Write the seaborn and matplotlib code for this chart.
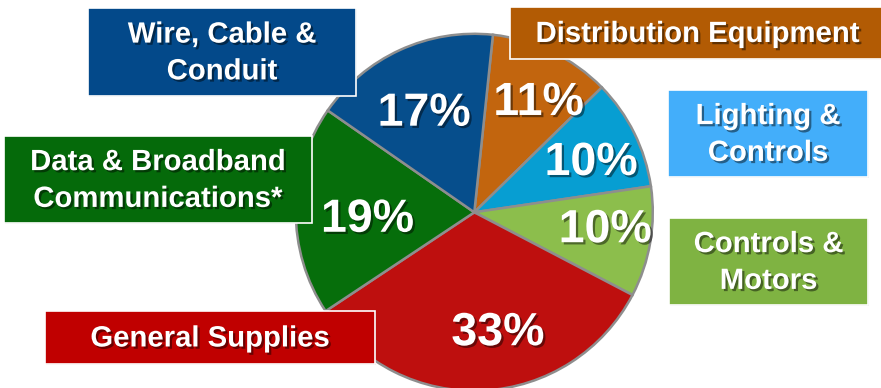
import matplotlib
matplotlib.use("Agg")
import matplotlib.pyplot as plt
import matplotlib.patheffects as pe
from matplotlib.patches import Rectangle
import numpy as np
import seaborn as sns

# Market segments, clockwise from the top
segments = ["Distribution Equipment", "Lighting & Controls", "Controls & Motors",
            "General Supplies", "Data & Broadband Communications*", "Wire, Cable & Conduit"]
shares = [11, 10, 10, 33, 19, 17]
pct_labels = ["11%", "10%", "10%", "33%", "19%", "17%"]
box_texts = ["Distribution Equipment", "Lighting &\nControls", "Controls &\nMotors",
             "General Supplies", "Data & Broadband\nCommunications*", "Wire, Cable &\nConduit"]

wedge_colors = ["#C2650E", "#079ED2", "#8CBE4C", "#BE0F0E", "#066E0B", "#064E8C"]
box_colors = ["#B25B04", "#43AEFA", "#7FB342", "#C00000", "#056A0A", "#03498A"]

# Label placement inside each wedge: radial fraction and angular nudge (deg)
label_dist = [0.71, 0.71, 0.74, 0.69, 0.60, 0.62]
label_nudge = [-4.6, -3.5, 1.8, 8.0, 4.6, 2.4]

# Callout boxes in pixel space: (left, top, width, height)
box_rects = [(510, 7, 375, 52), (668, 90, 200, 87), (669, 218, 199, 87),
             (45, 311, 330, 53), (4, 136, 308, 87), (88, 8, 268, 88)]

sns.set_theme(style="white")
plt.rcParams["font.family"] = ["Liberation Sans", "DejaVu Sans"]
palette = sns.color_palette(wedge_colors)

W, H = 881, 388
fig = plt.figure(figsize=(W / 100, H / 100), dpi=100)
fig.patch.set_facecolor("white")

cx, cy, R = 474.3, 212.3, 178.5
ax = fig.add_axes([(cx - R) / W, (H - cy - R) / H, 2 * R / W, 2 * R / H])

wedges, _ = ax.pie(shares, colors=palette, startangle=84, counterclock=False,
                   radius=1, wedgeprops=dict(edgecolor="#8e8e8e", linewidth=1.8))
ax.set_xlim(-1, 1)
ax.set_ylim(-1, 1)
ax.set_aspect("equal")
ax.axis("off")
for w in wedges:
    w.set_clip_on(False)

shadow = [pe.SimplePatchShadow(offset=(1.6, -1.6), shadow_rgbFace="black", alpha=0.45),
          pe.Normal()]

for w, lab, d, nud in zip(wedges, pct_labels, label_dist, label_nudge):
    mid = np.deg2rad((w.theta1 + w.theta2) / 2 + nud)
    ax.text(d * np.cos(mid), d * np.sin(mid), lab, ha="center", va="center",
            color="white", fontsize=33.5, fontweight="bold", path_effects=shadow)

# Overlay for callout boxes, in pixel coordinates
ov = fig.add_axes([0, 0, 1, 1], zorder=5)
ov.set_xlim(0, W)
ov.set_ylim(H, 0)
ov.axis("off")
ov.patch.set_alpha(0)

for (l, t, bw, bh), txt, col in zip(box_rects, box_texts, box_colors):
    ov.add_patch(Rectangle((l, t), bw, bh, facecolor=col, edgecolor="white",
                           linewidth=1.2,
                           path_effects=[pe.SimplePatchShadow(offset=(1, -1), alpha=0.2),
                                         pe.Normal()]))
    ov.text(l + bw / 2, t + bh / 2 + 1, txt, ha="center", va="center", color="white",
            fontsize=21.1, fontweight="bold", linespacing=1.4, path_effects=shadow)

fig.savefig("out.png", dpi=100, facecolor="white")
